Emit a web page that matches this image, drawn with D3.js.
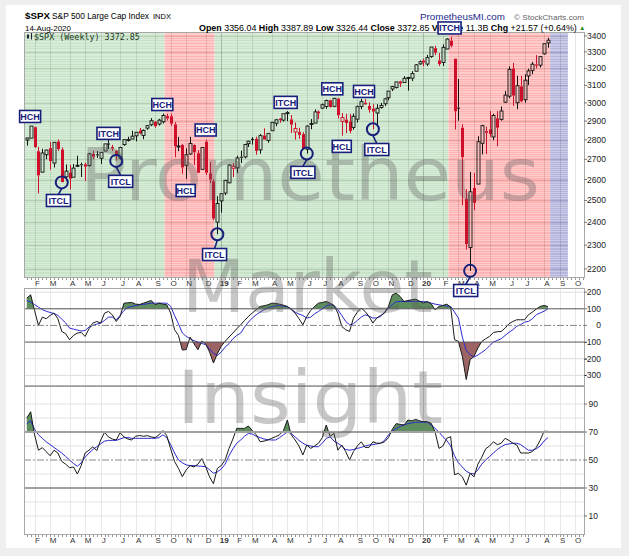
<!DOCTYPE html>
<html lang="en">
<head>
<meta charset="utf-8">
<script src="https://cdn.jsdelivr.net/npm/d3@7"></script>
<style>
body{ margin:0; background:#efefef; font-family:"Liberation Sans", Arial, sans-serif; }
</style>
</head>
<body>
<script>
// weekly bars, first bar = week ending 19-Jan-2018, one bar per week
var firstWeek = "2018-01-19";
var prevClose = 2786;

var opens = [2799,2809,2867,2741,2636,2723,2757,2681,2791,2750,
  2613,2634,2611,2670,2675,2675,2669,2727,2725,2705,
  2742,2781,2763,2743,2705,2775,2797,2804,2821,2849,
  2823,2862,2880,2897,2884,2896,2927,2926,2882,2763,
  2773,2670,2727,2773,2731,2650,2790,2630,2591,2401,
  2498,2535,2584,2655,2657,2713,2712,2780,2805,2805,
  2748,2823,2797,2848,2888,2913,2905,2941,2909,2841,
  2841,2830,2751,2886,2889,2952,2971,2980,3015,2981,
  3024,2898,2908,2898,2866,2910,2980,3001,2983,2968,
  2944,2974,2995,3029,3079,3088,3123,3117,3144,3142,
  3183,3227,3247,3226,3271,3323,3248,3235,3318,3370,
  3258,2974,2864,2508,2290,2559,2578,2782,2846,2855,
  2815,2915,2909,3004,3038,3199,3001,3094,3018,3155,
  3188,3224,3219,3288,3356];
var highs = [2808,2873,2870,2763,2754,2748,2789,2787,2802,2761,
  2674,2672,2676,2718,2683,2683,2733,2743,2742,2736,
  2779,2802,2774,2746,2764,2802,2816,2848,2841,2863,
  2855,2877,2916,2900,2912,2941,2940,2940,2894,2816,
  2778,2756,2816,2776,2747,2761,2800,2685,2601,2520,
  2532,2598,2675,2681,2718,2744,2775,2795,2814,2817,
  2831,2861,2836,2894,2910,2917,2940,2954,2933,2892,
  2864,2841,2876,2911,2964,2959,2996,3018,3018,3028,
  3027,2944,2939,2939,2941,2986,3022,3021,3003,2993,
  2993,3000,3028,3067,3097,3120,3127,3154,3150,3183,
  3226,3248,3259,3282,3330,3338,3293,3347,3385,3394,
  3259,3137,2883,2553,2637,2632,2819,2880,2869,2955,
  2940,2954,2980,3068,3212,3233,3156,3155,3165,3198,
  3238,3280,3273,3352,3388];
var lows = [2770,2808,2759,2533,2634,2700,2648,2659,2742,2586,
  2594,2553,2611,2661,2612,2594,2663,2701,2707,2676,
  2742,2752,2742,2692,2698,2769,2791,2804,2792,2829,
  2803,2853,2873,2864,2876,2887,2903,2874,2710,2741,
  2628,2603,2722,2671,2631,2649,2622,2583,2409,2347,
  2444,2525,2582,2612,2631,2681,2705,2763,2775,2723,
  2728,2800,2785,2848,2872,2891,2898,2900,2836,2801,
  2805,2750,2729,2856,2888,2910,2967,2967,2975,2976,
  2914,2822,2835,2834,2853,2892,2965,2990,2946,2856,
  2874,2968,2982,3015,3067,3082,3091,3114,3070,3125,
  3182,3222,3212,3214,3264,3280,3214,3214,3316,3328,
  2855,2902,2478,2281,2192,2455,2577,2725,2727,2816,
  2798,2767,2902,2999,3026,2984,2965,3004,3001,3102,
  3165,3200,3205,3284,3326];
var closes = [2810,2873,2762,2620,2732,2747,2691,2787,2752,2588,
  2641,2604,2656,2670,2670,2663,2728,2713,2721,2735,
  2779,2779,2755,2718,2760,2801,2802,2819,2840,2833,
  2850,2875,2902,2872,2905,2930,2914,2886,2767,2768,
  2659,2723,2781,2736,2633,2760,2633,2600,2417,2486,
  2532,2596,2671,2665,2707,2708,2776,2793,2804,2743,
  2822,2801,2834,2893,2907,2905,2940,2946,2881,2860,
  2826,2752,2873,2887,2950,2942,2990,3014,2977,3026,
  2932,2919,2889,2847,2926,2979,3007,2992,2962,2952,
  2970,2986,3023,3067,3093,3120,3110,3141,3146,3169,
  3221,3240,3235,3265,3330,3295,3226,3328,3380,3338,
  2954,2972,2711,2305,2541,2489,2790,2875,2837,2831,
  2930,2864,2955,3044,3194,3041,3098,3009,3130,3185,
  3225,3216,3271,3351,3373];

// CCI (black) and its signal line (blue)
var cci = [164,184,90,0,50,40,60,74,40,-36,
  -50,-86,-60,-46,-42,-66,-20,14,24,14,
  74,84,64,24,54,134,136,138,128,126,
  134,142,150,124,134,128,124,74,-26,-60,
  -148,-145,-70,-110,-146,-95,-110,-160,-226,-170,
  -125,-96,-70,-46,-20,4,30,54,75,94,
  114,118,124,134,132,128,122,114,95,74,
  40,4,54,90,114,134,138,144,134,120,
  74,-6,-26,-36,44,80,104,84,54,14,
  44,60,74,114,184,194,174,144,150,154,
  158,146,134,144,130,94,114,120,128,110,
  -86,-96,-186,-325,-206,-186,-136,-96,-80,-66,
  -42,-38,-36,-16,10,24,34,34,34,64,
  80,98,114,120,114];
var cciSignal = [150,140,125,110,95,85,78,72,60,38,
  15,-16,-22,-28,-34,-30,-10,0,8,14,
  30,50,50,34,60,90,108,114,120,124,
  127,130,134,134,134,134,134,115,60,10,
  -45,-66,-80,-92,-100,-108,-116,-140,-168,-180,
  -160,-130,-110,-80,-60,-46,-10,20,45,64,
  80,95,104,112,118,120,116,112,100,80,
  68,60,44,50,70,84,100,118,124,120,
  94,60,24,4,10,30,50,64,56,44,
  46,54,80,104,125,142,144,144,144,144,
  144,144,144,140,134,128,124,120,116,114,
  80,44,-70,-150,-176,-190,-178,-162,-146,-122,
  -100,-90,-80,-60,-42,-25,-5,5,20,24,
  40,64,75,85,100];

// RSI (black) and its signal line (blue)
var rsi = [80,84.5,68,57,58.8,56,53,57,55,49,
  47,44.5,45,40,46,55,57,59.5,56.7,64.3,
  69.8,66.5,65,64.3,69.5,66.5,65,64.3,67,67.5,
  67,67.4,66.5,66,68,71,67.4,58,49,44,
  38.1,43,46,45,47,51,45.2,38,33,44,
  46,50,58.3,65,72.6,72.6,72.6,74.3,71,68,
  63.1,63.5,64.3,65.5,66.7,68,71,78.6,68,64.3,
  60,53.6,60.7,58.3,60,62,66,75,67,69,
  57,60.7,56,50,56,60,63,59,59,63,
  62,62,63,66,72,76,75.5,75,78.6,78,
  79,78,77.4,77.4,76.2,70,58.3,60,65.5,66.7,
  39.5,40.5,38,32,40.5,38,47,52,58,60,
  63,61,62,65.5,64,62,60.7,55,55,55,
  56,59,64,70.5,70.5];
var rsiSignal = [76,78,72,68,65.5,63,61,59,57,55,
  52.5,50,47.5,45.5,48,52,55,57.5,59.5,61.5,
  63.5,64,64,64,65,66,66,65.5,65.5,65.5,
  65.5,65.5,65.5,65.5,66,68,66,61,55,50,
  48,46.5,46,46,45.7,45.5,45.2,43,40.5,41.5,
  43.5,47,53,58,62,64.3,67,69,68.5,67,
  66,65,64.5,64.3,64.3,66,68,70,69,66.5,
  64,62,60.5,60,59.5,59.5,62,65.5,66.5,63.5,
  62,60,57.5,57,57.5,58.3,59,60,60.7,61,
  61.5,62,64,68,70.5,72.5,74,75,76,76.5,
  77,77,77,77,75,72.6,70,66.7,64,60,
  53,48,45,42,40.5,40,43,47,50,52.5,
  55,57.5,59.5,61,61.5,62,62,61,59,57,
  57,58,60,63.5,66];

// cycle background bands
var bandFrom = ["2018-01-14","2018-09-24","2018-12-23","2020-02-17","2020-08-18"];
var bandTo   = ["2018-09-24","2018-12-23","2020-02-17","2020-08-18","2020-09-19"];
var bandKind = ["up","down","up","down","next"];

// cycle annotations
var noteLabels = ["HCH","ITCL","ITCH","ITCL","HCH","HCH","HCL","ITCL","ITCH","ITCL","HCH","HCH","HCL","ITCL","ITCH","ITCL"];
var noteDates = ["2018-01-25","2018-03-17","2018-06-15","2018-07-07","2018-09-20","2018-12-07","2018-11-01","2018-12-23",
  "2019-04-30","2019-05-31","2019-07-23","2019-09-18","2019-08-09","2019-10-11","2020-02-19","2020-03-19"];
var notePrices = [2925,2500,2834,2591,2991,2852,2547,2260,3003,2635,3080,3065,2766,2750,3451,2113];
var noteLowWeek = [-1,9,-1,23,-1,-1,-1,49,-1,72,-1,-1,-1,89,-1,114];

// axis labels
var monthLabels = ["F","M","A","M","J","J","A","S","O","N","D",
  "19","F","M","A","M","J","J","A","S","O","N","D",
  "20","F","M","A","M","J","J","A","S","O"];
var priceTicks = [3400,3300,3200,3100,3000,2900,2800,2700,2600,2500,2400,2300,2200];
var cciTicks = [200,100,0,-100,-200,-300];
var rsiTicks = [90,70,50,30,10];

var W = 629, H = 556;
var L = 24, R = 584;
var pTop = 32, pBot = 277, cTop = 288, cBot = 386, rTop = 386, rBot = 534;
var parse = d3.timeParse("%Y-%m-%d");

var x = d3.scaleTime().domain([parse("2018-01-14"), parse("2020-10-18")]).range([L, R]);
var yP = d3.scaleLog().domain([2167, 3425]).range([pBot, pTop]);
var yC = d3.scaleLinear().domain([-364, 225]).range([cBot, cTop]);
var yR = d3.scaleLinear().domain([-2.9, 102.9]).range([rBot, rTop]);

var week0 = parse(firstWeek);
var weeks = closes.map(function(d, i){ return d3.timeDay.offset(week0, 7 * i); });
function xw(i){ return x(weeks[i]); }

var months = d3.timeMonth.range(new Date(2018, 1, 1), new Date(2020, 10, 1));
var monthX = months.map(function(m){ return x(d3.timeFriday.ceil(m)); });

var svg = d3.select("body").append("svg").attr("width", W).attr("height", H);
svg.append("rect").attr("width", W).attr("height", H).attr("fill", "#efefef");
svg.append("rect").attr("x", 6).attr("y", 5).attr("width", 615).attr("height", 543).attr("fill", "#fff");

// fit a text into a given width by scaling its font size
function fit(t, size, width){
  t.style("font-size", size + "px");
  var w = t.node().getComputedTextLength();
  t.style("font-size", (size * width / w) + "px");
  return t;
}

// ---- price panel background
var bandColor = { up: "#c8e4c8", down: "#ffb4b4", next: "#b4b4dc" };
svg.selectAll(".band").data(bandFrom).enter().append("rect")
  .attr("x", function(d){ return x(parse(d)); })
  .attr("width", function(d, i){ return x(parse(bandTo[i])) - x(parse(d)); })
  .attr("y", pTop).attr("height", pBot - pTop)
  .attr("fill", function(d, i){ return bandColor[bandKind[i]]; });

var fine = d3.range(2170, 3430, 10);
svg.selectAll(".fine").data(fine).enter().append("line")
  .attr("x1", L).attr("x2", x(parse(bandTo[4])))
  .attr("y1", function(d){ return Math.round(yP(d)) + 0.5; })
  .attr("y2", function(d){ return Math.round(yP(d)) + 0.5; })
  .attr("stroke", function(d){ return d % 100 == 0 ? "rgba(0,0,0,0.13)" : "rgba(255,255,255,0.45)"; })
  .attr("stroke-width", 0.7);

// vertical month lines, all panels
[[pTop, pBot, "rgba(0,0,0,0.13)", "rgba(0,0,0,0.25)"], [cTop, cBot, "#e2e2e2", "#bdbdbd"], [rTop, rBot, "#e2e2e2", "#bdbdbd"]]
  .forEach(function(p){
    svg.append("g").selectAll("line").data(monthX).enter().append("line")
      .attr("x1", function(d){ return Math.round(d) + 0.5; })
      .attr("x2", function(d){ return Math.round(d) + 0.5; })
      .attr("y1", p[0]).attr("y2", p[1])
      .attr("stroke", function(d, i){ return monthLabels[i].length == 2 ? p[3] : p[2]; })
      .attr("stroke-width", 0.8);
  });

// ---- candles
var red = "#d0102a";
var cg = svg.append("g");
closes.forEach(function(c, i){
  var o = opens[i], pc = i == 0 ? prevClose : closes[i - 1];
  var col = c >= pc ? "#111" : red;
  var cx = Math.round(xw(i)) + 0.5;
  var top = yP(Math.max(o, c)), bot = yP(Math.min(o, c));
  cg.append("line").attr("x1", cx).attr("x2", cx).attr("y1", yP(highs[i])).attr("y2", top)
    .attr("stroke", col).attr("stroke-width", 1);
  cg.append("line").attr("x1", cx).attr("x2", cx).attr("y1", bot).attr("y2", yP(lows[i]))
    .attr("stroke", col).attr("stroke-width", 1);
  cg.append("rect").attr("x", cx - 1.5).attr("width", 3)
    .attr("y", top).attr("height", Math.max(1, bot - top))
    .attr("fill", c < o ? col : "none")
    .attr("stroke", col).attr("stroke-width", c < o ? 0 : 0.9);
});

// legend in the price panel
svg.append("rect").attr("x", 27).attr("y", 34.5).attr("width", 2).attr("height", 4).attr("fill", "#223");
svg.append("line").attr("x1", 31.5).attr("x2", 31.5).attr("y1", 33).attr("y2", 39.5).attr("stroke", "#223");
svg.append("text").attr("x", 34).attr("y", 39.5)
  .style("font-family", "'DejaVu Sans Mono', monospace").style("font-size", "8.4px").attr("fill", "#1d3a1d")
  .text("$SPX (Weekly) 3372.85");

// ---- indicator panels
function panelLines(vals, sig, yS, hi, lo, t, b, clip){
  var area = d3.area().x(function(d, i){ return xw(i); });
  svg.append("clipPath").attr("id", clip + "a").append("rect")
    .attr("x", L).attr("width", R - L).attr("y", t).attr("height", yS(hi) - t);
  svg.append("clipPath").attr("id", clip + "b").append("rect")
    .attr("x", L).attr("width", R - L).attr("y", yS(lo)).attr("height", b - yS(lo));
  svg.append("path").datum(vals).attr("clip-path", "url(#" + clip + "a)")
    .attr("fill", "#5e8e5e").attr("d", area.y0(yS(hi)).y1(function(d){ return yS(d); }));
  svg.append("path").datum(vals).attr("clip-path", "url(#" + clip + "b)")
    .attr("fill", "#9c6464").attr("d", area.y0(yS(lo)).y1(function(d){ return yS(d); }));
  var line = d3.line().x(function(d, i){ return xw(i); }).y(function(d){ return yS(d); });
  svg.append("path").datum(sig).attr("fill", "none").attr("stroke", "#2a2ad0").attr("stroke-width", 1).attr("d", line);
  svg.append("path").datum(vals).attr("fill", "none").attr("stroke", "#1a1a1a").attr("stroke-width", 1).attr("d", line);
}

// CCI grid
svg.selectAll(".cgrid").data([200, -200, -300]).enter().append("line")
  .attr("x1", L).attr("x2", R).attr("y1", function(d){ return yC(d); }).attr("y2", function(d){ return yC(d); })
  .attr("stroke", "#dcdcdc");
// RSI grid
svg.selectAll(".rgrid").data([90, 80, 60, 40, 20, 10]).enter().append("line")
  .attr("x1", L).attr("x2", R).attr("y1", function(d){ return yR(d); }).attr("y2", function(d){ return yR(d); })
  .attr("stroke", "#e2e2e2");

panelLines(cci, cciSignal, yC, 100, -100, cTop, cBot, "cc");
panelLines(rsi, rsiSignal, yR, 70, 30, rTop, rBot, "rs");

[[yC(100), "#555", 1], [yC(-100), "#555", 1], [yR(70), "#a0a0a0", 2], [yR(30), "#a0a0a0", 2]].forEach(function(l){
  svg.append("line").attr("x1", L).attr("x2", R).attr("y1", l[0]).attr("y2", l[0])
    .attr("stroke", l[1]).attr("stroke-width", l[2]);
});
[yC(0), yR(50)].forEach(function(yy){
  svg.append("line").attr("x1", L).attr("x2", R).attr("y1", yy).attr("y2", yy)
    .attr("stroke", "#888").attr("stroke-dasharray", "7,2,2,2");
});

// panel frames
[[pTop, pBot], [cTop, cBot], [rTop, rBot]].forEach(function(p){
  svg.append("rect").attr("x", L + 0.5).attr("y", p[0] + 0.5).attr("width", R - L).attr("height", p[1] - p[0])
    .attr("fill", "none").attr("stroke", "#a8a8a8").attr("stroke-width", 1);
});
svg.append("line").attr("x1", L).attr("x2", R).attr("y1", cBot).attr("y2", cBot).attr("stroke", "#999").attr("stroke-width", 1.6);

// ---- right axes
function rightAxis(ticks, yS, anchor, xx){
  var g = svg.append("g");
  g.selectAll("line").data(ticks).enter().append("line")
    .attr("x1", R).attr("x2", R + 3).attr("y1", function(d){ return yS(d); }).attr("y2", function(d){ return yS(d); })
    .attr("stroke", "#777");
  g.selectAll("text").data(ticks).enter().append("text")
    .attr("x", xx).attr("y", function(d){ return yS(d) + 3; })
    .attr("text-anchor", anchor).style("font-size", "8.5px").attr("fill", "#222")
    .text(function(d){ return d; });
}
rightAxis(priceTicks, yP, "start", 587);
rightAxis(cciTicks, yC, "end", 601);
rightAxis(rsiTicks, yR, "end", 598);

// ---- month axes
[pBot, rBot].forEach(function(yy){
  svg.append("g").selectAll("line").data(weeks.concat(d3.timeFriday.range(d3.timeDay.offset(weeks[weeks.length - 1], 1), x.domain()[1])))
    .enter().append("line")
    .attr("x1", function(d){ return Math.round(x(d)) + 0.5; }).attr("x2", function(d){ return Math.round(x(d)) + 0.5; })
    .attr("y1", yy + 1).attr("y2", yy + 3).attr("stroke", "#999");
  svg.append("g").selectAll("text").data(monthLabels).enter().append("text")
    .attr("x", function(d, i){ return monthX[i] + 3; }).attr("y", yy + 9)
    .attr("text-anchor", "middle").style("font-size", "8px")
    .style("font-weight", function(d){ return d.length == 2 ? "bold" : "normal"; })
    .attr("fill", "#333").text(function(d){ return d; });
});

// ---- watermark
var wm = [["Prometheus", 80, 200, 460], ["Market", 182, 312, 251], ["Insight", 177, 423, 266]];
svg.append("g").selectAll("text").data(wm).enter().append("text")
  .attr("x", function(d){ return d[1]; }).attr("y", function(d){ return d[2]; })
  .attr("textLength", function(d){ return d[3]; }).attr("lengthAdjust", "spacingAndGlyphs")
  .style("font-family", "'DejaVu Sans', sans-serif").style("font-size", "73px")
  .attr("fill", "#5a5a5a").attr("opacity", 0.33)
  .text(function(d){ return d[0]; });

// ---- header
fit(svg.append("text").attr("x", 25).attr("y", 19).style("font-weight", "bold").text("$SPX"), 12, 25);
fit(svg.append("text").attr("x", 52).attr("y", 19).text("S&P 500 Large Cap Index"), 9.5, 97);
fit(svg.append("text").attr("x", 153).attr("y", 19).text("INDX"), 7.5, 18);
fit(svg.append("text").attr("x", 25).attr("y", 30.5).text("14-Aug-2020"), 8.5, 46);
var hdr = svg.append("text").attr("x", 199).attr("y", 30.5);
[["Open", " 3356.04 "], ["High", " 3387.89 "], ["Low", " 3326.44 "], ["Close", " 3372.85 "], ["Volume", " 11.3B "], ["Chg", " +21.57 (+0.64%)"]]
  .forEach(function(p){
    hdr.append("tspan").style("font-weight", "bold").text(p[0]);
    hdr.append("tspan").text(p[1]);
  });
fit(hdr, 8.6, 378);
svg.append("text").attr("x", 579).attr("y", 30).style("font-size", "6.5px").attr("fill", "#2a8a2a").text("▲");
fit(svg.append("text").attr("x", 420).attr("y", 20).attr("fill", "#1c2a8c").text("PrometheusMI.com"), 11, 85);
fit(svg.append("text").attr("x", 514).attr("y", 19.5).attr("fill", "#666").text("© StockCharts.com"), 9, 70);

// ---- cycle annotations
var navy = "#16207a";
var boxW = { HCH: 21, ITCH: 23, ITCL: 24, HCL: 19 };
var ag = svg.append("g");
noteLabels.forEach(function(lab, i){
  var bx = x(parse(noteDates[i])), by = yP(notePrices[i]);
  var k = noteLowWeek[i];
  if (k >= 0) {
    var cx = xw(k), cy = yP(lows[k]);
    ag.append("line").attr("x1", cx).attr("y1", cy + 6).attr("x2", bx).attr("y2", by - 6)
      .attr("stroke", navy).attr("stroke-width", 1.6);
    ag.append("circle").attr("cx", cx).attr("cy", cy).attr("r", 6)
      .attr("fill", "none").attr("stroke", navy).attr("stroke-width", 2);
  }
  var w = boxW[lab];
  ag.append("rect").attr("x", bx - w / 2).attr("y", by - 6).attr("width", w).attr("height", 12)
    .attr("fill", "#fff").attr("stroke", navy).attr("stroke-width", 1.6);
  ag.append("text").attr("x", bx).attr("y", by + 3.3).attr("text-anchor", "middle")
    .style("font-size", "9px").style("font-weight", "bold").attr("fill", navy).text(lab);
});
</script>
</body>
</html>
